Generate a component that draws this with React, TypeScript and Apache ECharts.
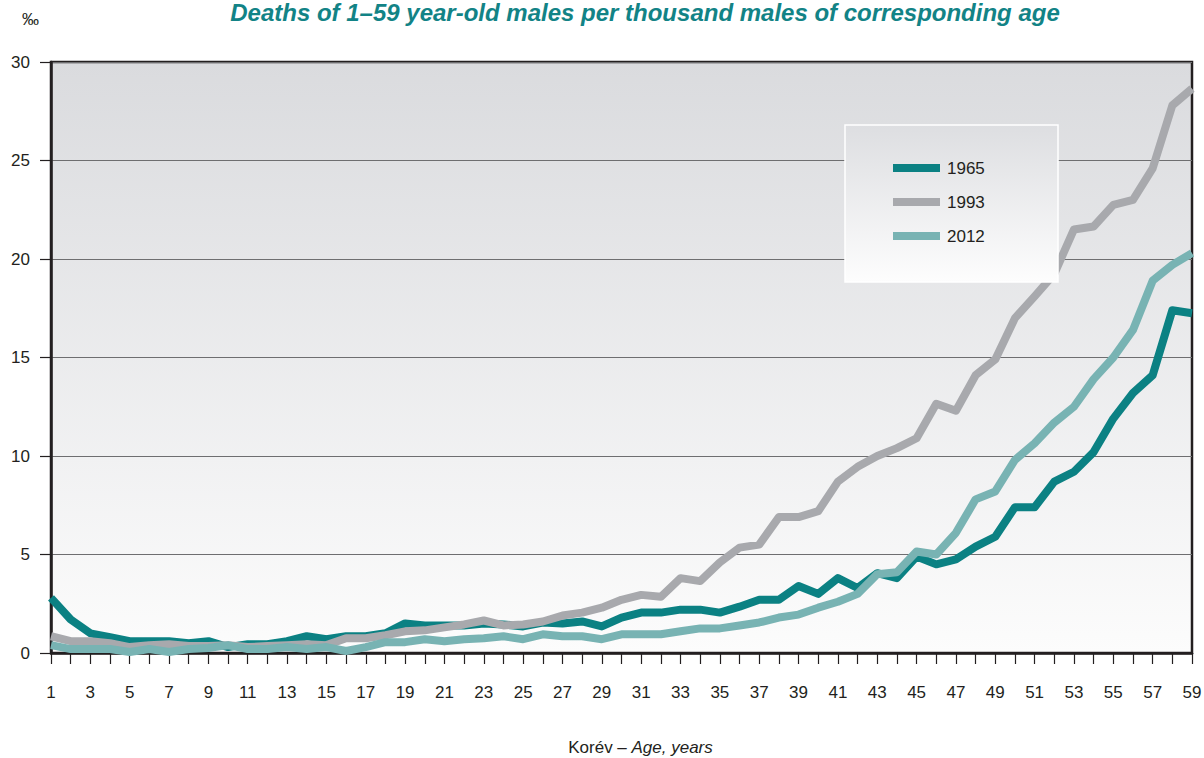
import React, { useEffect, useRef } from "react";
import * as echarts from "echarts";

const ages: string[] = Array.from({ length: 59 }, (_, i) => String(i + 1));

const y1965: number[] = [
  2.8, 1.7, 1.0, 0.8, 0.6, 0.6, 0.6, 0.5, 0.6, 0.3,
  0.45, 0.45, 0.6, 0.85, 0.7, 0.85, 0.85, 1.0, 1.5, 1.4,
  1.4, 1.4, 1.5, 1.45, 1.35, 1.55, 1.5, 1.6, 1.35, 1.8,
  2.05, 2.05, 2.2, 2.2, 2.05, 2.35, 2.7, 2.7, 3.4, 3.0,
  3.8, 3.3, 4.05, 3.8, 4.9, 4.5, 4.75, 5.4, 5.9, 7.4,
  7.4, 8.7, 9.2, 10.2, 11.9, 13.2, 14.1, 17.4, 17.25,
];

const y1993: number[] = [
  0.85, 0.6, 0.6, 0.5, 0.3, 0.4, 0.45, 0.35, 0.35, 0.4,
  0.3, 0.35, 0.4, 0.45, 0.4, 0.75, 0.75, 0.9, 1.1, 1.15,
  1.3, 1.45, 1.65, 1.4, 1.45, 1.6, 1.9, 2.05, 2.3, 2.7,
  2.95, 2.85, 3.8, 3.65, 4.6, 5.35, 5.5, 6.9, 6.9, 7.2,
  8.7, 9.45, 10.0, 10.4, 10.9, 12.65, 12.3, 14.1, 14.9, 17.0,
  18.1, 19.25, 21.5, 21.65, 22.75, 23.0, 24.6, 27.8, 28.65,
];

const y2012: number[] = [
  0.4, 0.2, 0.2, 0.2, 0.05, 0.2, 0.05, 0.2, 0.25, 0.4,
  0.2, 0.2, 0.3, 0.2, 0.3, 0.1, 0.3, 0.55, 0.55, 0.7,
  0.6, 0.7, 0.75, 0.85, 0.7, 0.95, 0.85, 0.85, 0.7, 0.95,
  0.95, 0.95, 1.1, 1.25, 1.25, 1.4, 1.55, 1.8, 1.95, 2.3,
  2.6, 3.0, 4.0, 4.1, 5.15, 5.0, 6.1, 7.8, 8.2, 9.8,
  10.65, 11.7, 12.5, 13.9, 15.0, 16.4, 18.9, 19.7, 20.3,
];

const seriesNames: string[] = ["1965", "1993", "2012"];
const seriesColors: string[] = ["#0b8183", "#a8a9ad", "#78b3b3"];

const titleText = "Deaths of 1–59 year-old males per thousand males of corresponding age";
const unitText = "‰";
const axisNameNormal = "Korév – ";
const axisNameItalic = "Age, years";

const FONT = "'Liberation Sans', Arial, sans-serif";
const TEXT = "#231f20";

export default function App() {
  const ref = useRef<HTMLDivElement>(null);

  useEffect(() => {
    document.body.style.margin = "0";
    if (!ref.current) return;
    const chart = echarts.init(ref.current, undefined, { renderer: "svg" });
    const data = [y1965, y1993, y2012];
    chart.setOption({
      animation: false,
      backgroundColor: "#ffffff",
      textStyle: { fontFamily: FONT },
      title: {
        text: titleText,
        left: 640,
        textAlign: "center",
        top: -5,
        textStyle: {
          fontFamily: FONT,
          fontSize: 24,
          fontWeight: "bold",
          fontStyle: "italic",
          color: "#128386",
        },
      },
      graphic: [
        {
          type: "text",
          left: 22,
          top: 11,
          style: { text: unitText, fontSize: 17, fill: TEXT, fontFamily: FONT },
        },
        {
          type: "rect",
          z: 5,
          shape: { x: 845, y: 125, width: 213, height: 157 },
          style: {
            fill: new echarts.graphic.LinearGradient(0, 0, 0, 1, [
              { offset: 0, color: "#dddee1" },
              { offset: 1, color: "#fdfdfd" },
            ]),
            stroke: "#ffffff",
            lineWidth: 1.5,
          },
        },
      ],
      legend: {
        z: 10,
        orient: "vertical",
        left: 893,
        top: 159.5,
        padding: 0,
        itemWidth: 47,
        itemHeight: 8,
        itemGap: 17,
        icon: "rect",
        textStyle: { fontFamily: FONT, fontSize: 17, color: TEXT, padding: [0, 0, 0, 2] },
        data: seriesNames,
      },
      grid: {
        left: 51,
        right: 12,
        top: 62,
        bottom: 105,
        outerBoundsMode: "none",
        containLabel: false,
        show: true,
        backgroundColor: new echarts.graphic.LinearGradient(0, 0, 0, 1, [
          { offset: 0, color: "#dadbde" },
          { offset: 1, color: "#fcfcfc" },
        ]),
        borderColor: "#231f20",
        borderWidth: 2.5,
      },
      xAxis: {
        type: "category",
        data: ages,
        boundaryGap: false,
        name: `{n|${axisNameNormal}}{i|${axisNameItalic}}`,
        nameLocation: "middle",
        nameGap: 86,
        nameTextStyle: {
          padding: [0, 0, 0, 38],
          rich: {
            n: { fontFamily: FONT, fontSize: 17, color: TEXT },
            i: { fontFamily: FONT, fontSize: 17, color: TEXT, fontStyle: "italic" },
          },
        },
        axisLine: { lineStyle: { color: "#231f20", width: 2.5 } },
        axisTick: { show: true, interval: 0, length: 11, lineStyle: { color: "#231f20", width: 1.2 } },
        axisLabel: {
          interval: 1,
          margin: 31,
          fontSize: 17,
          color: TEXT,
          fontFamily: FONT,
        },
        splitLine: { show: false },
      },
      yAxis: {
        type: "value",
        min: 0,
        max: 30,
        interval: 5,
        axisLine: { show: true, lineStyle: { color: "#231f20", width: 2.5 } },
        axisTick: { show: true, length: 11, lineStyle: { color: "#231f20", width: 1.2 } },
        axisLabel: { margin: 21, fontSize: 17, color: TEXT, fontFamily: FONT },
        splitLine: { show: true, lineStyle: { color: "#6e6e70", width: 1.2 } },
      },
      series: seriesNames.map((name, i) => ({
        name,
        type: "line",
        data: data[i],
        color: seriesColors[i],
        showSymbol: false,
        symbol: "none",
        lineStyle: { width: 8, color: seriesColors[i], join: "round" },
        z: 2 + i,
      })),
    });
    return () => chart.dispose();
  }, []);

  return <div ref={ref} style={{ width: 1204, height: 758 }} />;
}
